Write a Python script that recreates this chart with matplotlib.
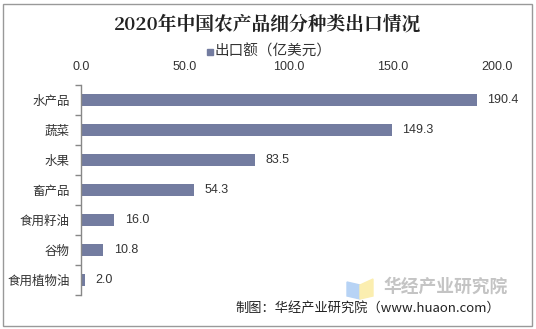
import matplotlib
matplotlib.use("Agg")
import matplotlib.pyplot as plt
from matplotlib.patches import Rectangle, Polygon
import numpy as np

plt.rcParams['font.family'] = ['Noto Sans CJK SC', 'DejaVu Sans']

categories = ["水产品", "蔬菜", "水果", "畜产品", "食用籽油", "谷物", "食用植物油"]
values = [190.4, 149.3, 83.5, 54.3, 16.0, 10.8, 2.0]
xticks = [0, 50, 100, 150, 200]
title = "2020年中国农产品细分种类出口情况"
legend_label = "出口额（亿美元）"

W, H = 536, 329
fig = plt.figure(figsize=(W / 100, H / 100), dpi=100)
ax = fig.add_axes([81 / W, 1 - 295 / H, 416 / W, 210 / H])

bar_color = "#737ca0"
y = np.arange(len(categories))
ax.barh(y, values, height=0.43, color=bar_color)
ax.set_ylim(len(categories) - 0.5, -0.5)
ax.set_xlim(0, 200)

for yi, v in zip(y, values):
    ax.text(v + 5, yi, f"{v:.1f}", va="center", ha="left", fontsize=9, color="#333333",
            family=['Liberation Sans', 'DejaVu Sans'])

ax.set_yticks(y)
ax.set_yticklabels(categories, fontsize=9, color="#333333")
ax.set_yticks(np.arange(-0.5, len(categories), 1), minor=True)
ax.tick_params(axis="y", which="major", length=0, pad=8)
ax.tick_params(axis="y", which="minor", length=4, color="#888888", width=1)

ax.xaxis.tick_top()
ax.set_xticks(xticks)
ax.set_xticklabels([f"{t:.1f}" for t in xticks], fontsize=9, color="#333333",
                   family=['Liberation Sans', 'DejaVu Sans'])
ax.tick_params(axis="x", length=0, pad=9)

for s in ["top", "right", "bottom"]:
    ax.spines[s].set_visible(False)
ax.spines["left"].set_color("#888888")
ax.spines["left"].set_linewidth(1)

# title and legend
fig.text(268 / W, 1 - 25 / H, title, ha="center", va="center", fontsize=13.5,
         fontweight="bold", color="#222222",
         family=['Noto Serif CJK SC', 'Noto Sans CJK SC', 'DejaVu Sans'])
fig.patches.append(Rectangle((207 / W, 1 - 54.5 / H), 6 / W, 6 / H, transform=fig.transFigure,
                             color=bar_color))
fig.text(215 / W, 1 - 51 / H, legend_label, ha="left", va="center", fontsize=10.5, color="#333333")

# watermark
fig.patches.append(Polygon([(347 / W, 1 - 282 / H), (360 / W, 1 - 285 / H), (360 / W, 1 - 299 / H),
                            (347 / W, 1 - 296 / H)], closed=True, transform=fig.transFigure,
                           color="#b7d3f5"))
fig.patches.append(Polygon([(360 / W, 1 - 285 / H), (373 / W, 1 - 279 / H), (373 / W, 1 - 296 / H),
                            (360 / W, 1 - 299 / H)], closed=True, transform=fig.transFigure,
                           color="#fbeeb0"))
fig.text(383 / W, 1 - 287 / H, "华经产业研究院", ha="left", va="center", fontsize=12.8,
         fontweight="bold", color="#c4c4c4")
fig.text(500 / W, 1 - 308 / H, "制图：华经产业研究院（www.huaon.com）", ha="right", va="center",
         fontsize=9.5, color="#222222")

# border
fig.patches.append(Rectangle((3 / W, 3 / H), 529 / W, 322 / H, transform=fig.transFigure,
                             fill=False, edgecolor="#999999", linewidth=1))

fig.savefig("out.png", dpi=100)
